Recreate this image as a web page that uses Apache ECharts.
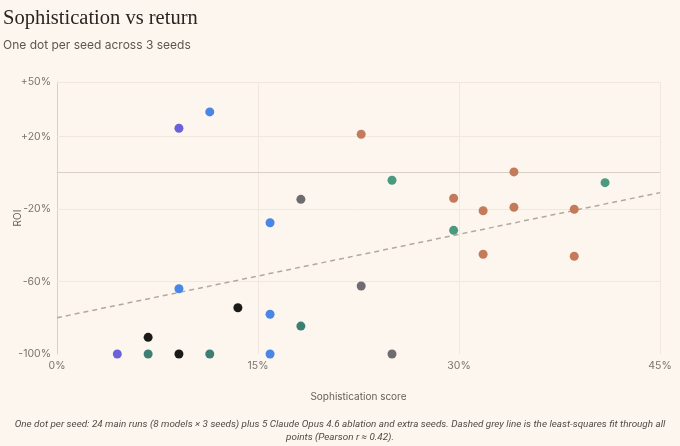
<!DOCTYPE html>
<html>
<head>
<meta charset="utf-8">
<script src="https://cdn.jsdelivr.net/npm/echarts@6/dist/echarts.min.js"></script>
<style>
  html, body { margin: 0; padding: 0; background: #fdf6ee; }
  #main { width: 680px; height: 446px; }
</style>
</head>
<body>
<div id="main"></div>
<script>
// 每个种子一个点：[复杂度得分 %, ROI %]
var purplePts = [[4.5, -100], [9.1, 24.5]];
var bluePts = [[11.4, 33.5], [9.1, -64], [15.9, -27.6], [15.9, -78.1], [15.9, -100]];
var blackPts = [[13.5, -74.5], [6.8, -90.8], [9.1, -100]];
var tealPts = [[6.8, -100], [11.4, -100], [18.2, -84.6]];
var greenPts = [[25.0, -4.2], [29.6, -31.8], [40.9, -5.5]];
var greyPts = [[18.2, -14.7], [22.7, -62.5], [25.0, -100]];
var orangePts = [[22.7, 21.2], [29.6, -14.1], [31.8, -21], [34.1, 0.4], [34.1, -19.1],
  [38.6, -20.2], [31.8, -45], [38.6, -46.1]];

// 最小二乘拟合线（两端点，读自原图）
var fitLine = [[0, -80], [45, -11]];

var yTicks = [50, 20, -20, -60, -100];
var xTicks = [0, 15, 30, 45];

var groups = [
  { name: 'purple', data: purplePts, color: '#6a62db' },
  { name: 'blue', data: bluePts, color: '#4a86e6' },
  { name: 'black', data: blackPts, color: '#1c1a19' },
  { name: 'teal', data: tealPts, color: '#3e7f74' },
  { name: 'green', data: greenPts, color: '#4b9a7f' },
  { name: 'grey', data: greyPts, color: '#6e6c70' },
  { name: 'orange', data: orangePts, color: '#c47b5c' }
];

var myChart = echarts.init(document.getElementById('main'));

var gridLines = [];
yTicks.forEach(function (v) {
  if (v !== -100) gridLines.push({ yAxis: v, lineStyle: { color: '#f0e8de', width: 1, type: 'solid' } });
});
gridLines.push({ yAxis: 0, lineStyle: { color: '#d9cfc6', width: 1.2, type: 'solid' } });

var series = [{
  name: 'fit',
  type: 'line',
  data: fitLine,
  symbol: 'none',
  silent: true,
  z: 2,
  lineStyle: { color: '#b3a89f', width: 1.5, type: [5, 4] },
  markLine: {
    silent: true,
    symbol: 'none',
    label: { show: false },
    data: gridLines,
    z: 1
  }
}];

groups.forEach(function (g) {
  series.push({
    name: g.name,
    type: 'scatter',
    data: g.data,
    symbolSize: 9,
    z: 5,
    itemStyle: { color: g.color, opacity: 1 }
  });
});

var option = {
  backgroundColor: '#fdf6ee',
  animation: false,
  textStyle: { fontFamily: 'Inter, Roboto, sans-serif' },
  title: [{
    text: 'Sophistication vs return',
    left: 3,
    top: 8,
    padding: 0,
    textStyle: { fontFamily: 'Liberation Serif, DejaVu Serif, serif', fontSize: 20.5, fontWeight: 'normal', color: '#2a2522' }
  }, {
    text: 'One dot per seed across 3 seeds',
    left: 3,
    top: 39,
    padding: 0,
    textStyle: { fontFamily: 'Inter, Roboto, sans-serif', fontSize: 12, fontWeight: 'normal', color: '#5c5650' }
  }],
  grid: { left: 57, right: 20, top: 82, bottom: 92, outerBoundsMode: 'none' },
  xAxis: {
    type: 'value',
    min: 0,
    max: 45,
    interval: 15,
    name: 'Sophistication score',
    nameLocation: 'middle',
    nameGap: 38,
    nameMoveOverlap: false,
    nameTextStyle: { fontSize: 10, color: '#66605a' },
    axisLine: { show: true, lineStyle: { color: '#ddd5cc' } },
    axisTick: { show: false },
    axisLabel: {
      fontSize: 10.5,
      color: '#7a746e',
      margin: 6,
      formatter: function (v) { return xTicks.indexOf(v) >= 0 ? v + '%' : ''; }
    },
    splitLine: { show: true, lineStyle: { color: '#f0e8de' } }
  },
  yAxis: {
    type: 'value',
    min: -100,
    max: 50,
    interval: 10,
    name: 'ROI',
    nameLocation: 'middle',
    nameGap: 34,
    nameMoveOverlap: false,
    nameTextStyle: { fontSize: 10, color: '#66605a' },
    axisLine: { show: true, lineStyle: { color: '#d9d0c7' } },
    axisTick: { show: false },
    axisLabel: {
      fontSize: 10.5,
      color: '#7a746e',
      margin: 6,
      formatter: function (v) {
        if (yTicks.indexOf(v) < 0) return '';
        return (v > 0 ? '+' : '') + v + '%';
      }
    },
    splitLine: { show: false }
  },
  graphic: [{
    type: 'text',
    x: 340,
    y: 418,
    style: {
      text: 'One dot per seed: 24 main runs (8 models \u00d7 3 seeds) plus 5 Claude Opus 4.6 ablation and extra seeds. Dashed grey line is the least-squares fit through all\npoints (Pearson r \u2248 0.42).',
      textAlign: 'center',
      align: 'center',
      font: 'italic 9.9px Roboto, sans-serif',
      lineHeight: 13,
      fill: '#4f4a45'
    }
  }],
  series: series
};

myChart.setOption(option);
</script>
</body>
</html>
